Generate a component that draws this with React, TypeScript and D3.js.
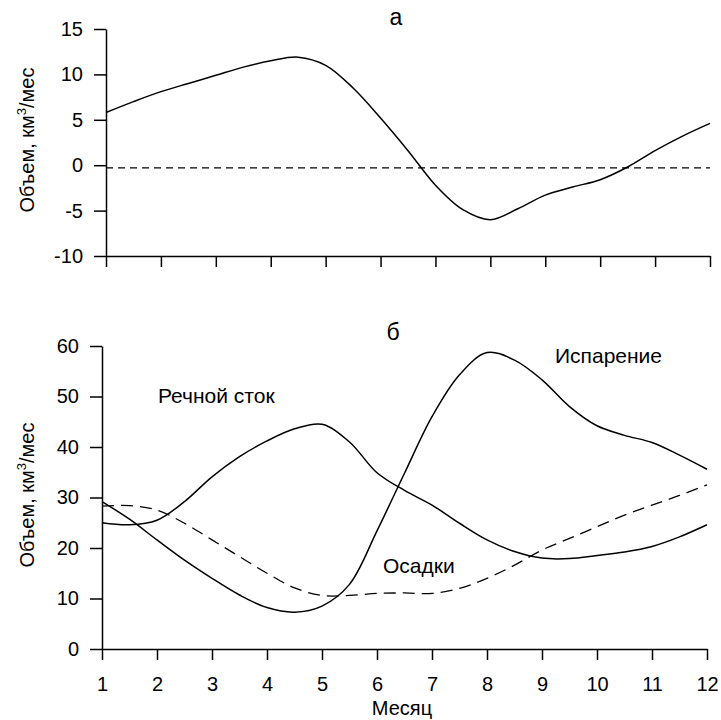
import React, { useEffect, useRef } from 'react';
import * as d3 from 'd3';

// panel "а" — balance
const balanceMonths = [1, 1.5, 2, 2.5, 3, 3.5, 4, 4.5, 5, 5.5, 6, 6.5, 7, 7.5, 8, 8.5, 9, 9.5, 10, 10.5, 11, 11.5, 12];
const balanceValues = [5.8, 7.0, 8.1, 9.0, 9.9, 10.8, 11.5, 11.9, 11.0, 8.5, 5.2, 1.6, -2.2, -4.9, -6.0, -4.8, -3.3, -2.4, -1.6, -0.2, 1.6, 3.2, 4.6];
const balanceRef = -0.3;

// panel "б"
const months = [1, 1.5, 2, 2.5, 3, 3.5, 4, 4.5, 5, 5.5, 6, 6.5, 7, 7.5, 8, 8.5, 9, 9.5, 10, 10.5, 11, 11.5, 12];
const runoff = [25.0, 24.6, 25.5, 29.2, 34.1, 38.1, 41.2, 43.6, 44.5, 41.0, 34.9, 31.4, 28.5, 24.9, 21.6, 19.3, 18.0, 17.9, 18.5, 19.2, 20.3, 22.2, 24.6];
const evaporation = [29.2, 25.7, 21.6, 17.6, 14.0, 10.7, 8.2, 7.3, 8.5, 12.8, 23.4, 34.8, 46.0, 54.3, 58.7, 57.2, 53.3, 48.0, 44.2, 42.3, 40.9, 38.4, 35.6];
const precipitation = [28.3, 28.4, 27.5, 24.9, 21.6, 18.3, 15.0, 12.1, 10.6, 10.6, 11.0, 11.1, 11.0, 12.0, 14.0, 16.6, 19.6, 21.9, 24.2, 26.5, 28.5, 30.4, 32.5];

const monthTicks = d3.range(1, 13);
const topTicks = [-10, -5, 0, 5, 10, 15];
const bottomTicks = [0, 10, 20, 30, 40, 50, 60];

const FONT = 'Liberation Sans, Arial, sans-serif';

export default function App() {
  const svgRef = useRef<SVGSVGElement>(null);

  useEffect(() => {
    if (!svgRef.current) return;
    const svg = d3.select(svgRef.current);
    svg.selectAll('*').remove();

    const styleAxis = (g: any) => {
      g.selectAll('path.domain').attr('stroke', '#000').attr('stroke-width', 1.5);
      g.selectAll('.tick line').attr('stroke', '#000').attr('stroke-width', 1.5);
      g.selectAll('.tick text').attr('font-family', FONT).attr('font-size', 20).attr('fill', '#000');
    };

    const yLabel = (cx: number, cy: number) => {
      const t = svg.append('text')
        .attr('transform', `translate(${cx},${cy}) rotate(-90)`)
        .attr('text-anchor', 'middle')
        .attr('font-family', FONT)
        .attr('font-size', 20)
        .attr('fill', '#000');
      t.append('tspan').text('Объем, км');
      t.append('tspan').attr('font-size', 13).attr('dy', -8).text('3');
      t.append('tspan').attr('dy', 8).text('/мес');
    };

    // ---- top panel
    const xTop = d3.scaleLinear().domain([1, 12]).range([106, 710]);
    const yTop = d3.scaleLinear().domain([-10, 15]).range([256, 29]);

    const gTopY = svg.append('g').attr('transform', 'translate(106,0)')
      .call(d3.axisLeft(yTop).tickValues(topTicks).tickSize(12).tickSizeOuter(0).tickPadding(11)
        .tickFormat(d => String(d)));
    styleAxis(gTopY);
    const gTopX = svg.append('g').attr('transform', 'translate(0,256)')
      .call(d3.axisBottom(xTop).tickValues(monthTicks).tickSize(11).tickSizeOuter(0).tickFormat(() => ''));
    styleAxis(gTopX);

    svg.append('line')
      .attr('x1', xTop(1)).attr('x2', xTop(12))
      .attr('y1', yTop(balanceRef)).attr('y2', yTop(balanceRef))
      .attr('stroke', '#000').attr('stroke-width', 1.3).attr('stroke-dasharray', '7,5');

    const topLine = d3.line<number>()
      .x((_, i) => xTop(balanceMonths[i]))
      .y(d => yTop(d))
      .curve(d3.curveCatmullRom.alpha(0.5));
    svg.append('path').attr('d', topLine(balanceValues)!)
      .attr('fill', 'none').attr('stroke', '#000').attr('stroke-width', 1.5);

    svg.append('text').attr('x', 396).attr('y', 25).attr('text-anchor', 'middle')
      .attr('font-family', FONT).attr('font-size', 23).text('а');
    yLabel(34, 140);

    // ---- bottom panel
    const x = d3.scaleLinear().domain([1, 12]).range([102, 707]);
    const y = d3.scaleLinear().domain([0, 60]).range([649, 346]);

    const gY = svg.append('g').attr('transform', 'translate(102,0)')
      .call(d3.axisLeft(y).tickValues(bottomTicks).tickSize(12).tickSizeOuter(0).tickPadding(11)
        .tickFormat(d => String(d)));
    styleAxis(gY);
    const gX = svg.append('g').attr('transform', 'translate(0,649)')
      .call(d3.axisBottom(x).tickValues(monthTicks).tickSize(11).tickSizeOuter(0).tickPadding(17));
    styleAxis(gX);

    const line = d3.line<number>()
      .x((_, i) => x(months[i]))
      .y(d => y(d))
      .curve(d3.curveCatmullRom.alpha(0.5));

    [runoff, evaporation].forEach(s => {
      svg.append('path').attr('d', line(s)!)
        .attr('fill', 'none').attr('stroke', '#000').attr('stroke-width', 1.5);
    });
    svg.append('path').attr('d', line(precipitation)!)
      .attr('fill', 'none').attr('stroke', '#000').attr('stroke-width', 1.3)
      .attr('stroke-dasharray', '12,7');

    const note = (tx: number, ty: number, s: string) =>
      svg.append('text').attr('x', tx).attr('y', ty).attr('font-family', FONT)
        .attr('font-size', 21).attr('fill', '#000').text(s);
    note(158, 403, 'Речной сток');
    note(555, 363, 'Испарение');
    note(383, 573, 'Осадки');

    svg.append('text').attr('x', 393).attr('y', 340).attr('text-anchor', 'middle')
      .attr('font-family', FONT).attr('font-size', 23).text('б');
    yLabel(34, 495);

    svg.append('text').attr('x', 402).attr('y', 715).attr('text-anchor', 'middle')
      .attr('font-family', FONT).attr('font-size', 20).text('Месяц');
  }, []);

  return (
    <svg
      ref={svgRef}
      width={721}
      height={720}
      style={{ position: 'absolute', left: 0, top: 0, background: '#fff' }}
    />
  );
}
